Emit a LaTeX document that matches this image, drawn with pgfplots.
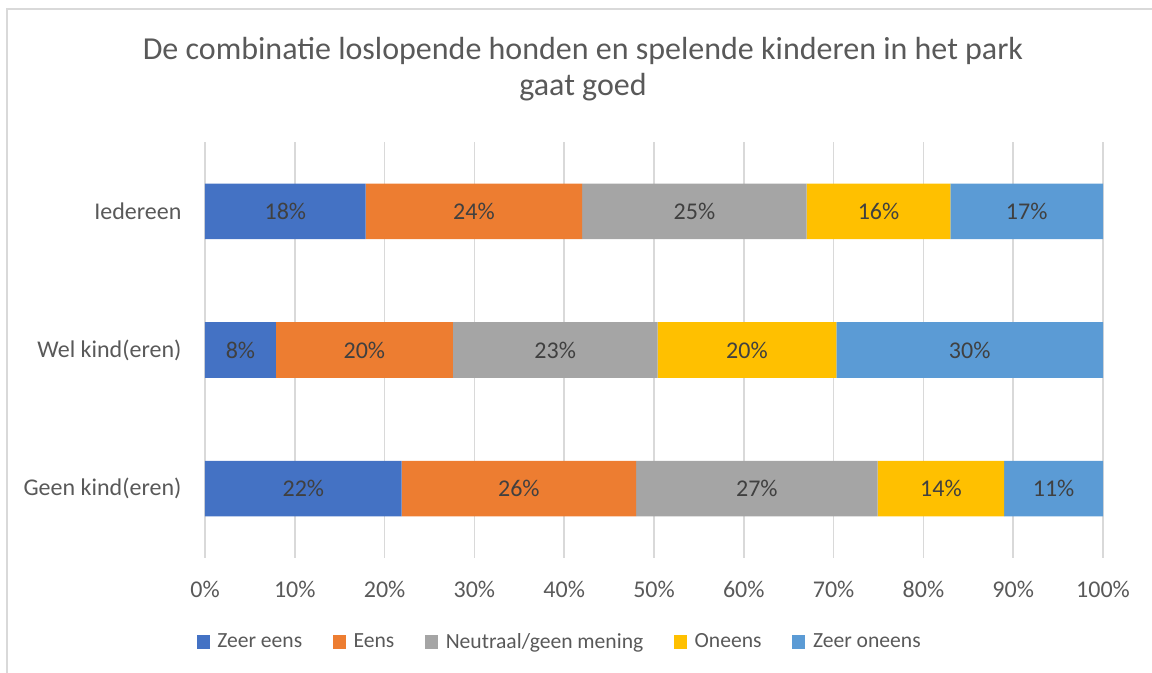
\documentclass[border=0pt]{standalone}
\usepackage{pgfplots}
\usepackage{pgfplotstable}
\pgfplotsset{compat=1.18}
\usepackage{fontspec}
\setmainfont{Carlito}

\definecolor{zeereens}{HTML}{4472C4}
\definecolor{eens}{HTML}{ED7D31}
\definecolor{neutraal}{HTML}{A5A5A5}
\definecolor{oneens}{HTML}{FFC000}
\definecolor{zeeroneens}{HTML}{5B9BD5}
\definecolor{txt}{HTML}{595959}
\definecolor{lbl}{HTML}{404040}
\definecolor{gridc}{HTML}{D9D9D9}

% y: 0 = Geen kind(eren), 1 = Wel kind(eren), 2 = Iedereen
\pgfplotstableread{
y  ze    e     n     o     zo
0  21.9  26.1  26.9  14.1  11.0
1  7.9   19.7  22.8  19.9  29.7
2  17.9  24.1  25.0  16.0  17.0
}\antwoorden

\begin{document}
\begin{tikzpicture}
\useasboundingbox (0,0) rectangle (864pt,504.75pt);
% chart border
\draw[gridc, line width=1.1pt] (5.25pt,0) -- (5.25pt,498pt) -- (864pt,498pt);

% title
\node[anchor=base, text=txt, font=\fontsize{24}{29}\selectfont] at (437.25pt,460.1pt)
  {De combinatie loslopende honden en spelende kinderen in het park};
\node[anchor=base, text=txt, font=\fontsize{24}{29}\selectfont] at (437.25pt,432.75pt)
  {gaat goed};

\begin{axis}[
  at={(153.75pt,86.25pt)}, anchor=south west,
  scale only axis,
  width=673.5pt, height=312pt,
  xbar stacked,
  bar width=41.7pt,
  xmin=0, xmax=100,
  ymin=-0.5, ymax=2.5,
  xtick={0,10,...,100},
  xticklabel={\pgfmathprintnumber{\tick}\%},
  ytick={0,1,2},
  yticklabels={Geen kind(eren), Wel kind(eren), Iedereen},
  /pgf/number format/assume math mode=true,
  axis line style={draw=none},
  major tick length=0pt,
  xmajorgrids=true,
  grid style={gridc, line width=1.1pt},
  tick label style={font=\fontsize{18}{22}\selectfont, text=txt},
  xticklabel style={anchor=center, yshift=-23.6pt},
  yticklabel style={anchor=east, inner sep=0pt, xshift=-17.5pt},
  visualization depends on={rawx \as \segw},
  nodes near coords={\pgfmathprintnumber[fixed,precision=0]{\segw}\%},
  every node near coord/.append style={anchor=center,
    font=\fontsize{18}{22}\selectfont, text=lbl},
  legend columns=5,
  legend style={
    at={(0.3953,-0.2019)}, anchor=center,
    draw=none, fill=none,
    font=\fontsize{16.2}{20}\selectfont, text=txt,
    /tikz/every even column/.append style={column sep=21pt},
    /tikz/every odd column/.append style={column sep=3.75pt},
    inner sep=0pt,
  },
  legend cell align=left,
  legend image code/.code={\fill[#1,draw=none] (0pt,-4.9pt) rectangle (9.8pt,4.9pt);},
]
\addplot[fill=zeereens, draw=none] table[x=ze, y=y] {\antwoorden};
\addplot[fill=eens, draw=none] table[x=e, y=y] {\antwoorden};
\addplot[fill=neutraal, draw=none] table[x=n, y=y] {\antwoorden};
\addplot[fill=oneens, draw=none] table[x=o, y=y] {\antwoorden};
\addplot[fill=zeeroneens, draw=none] table[x=zo, y=y] {\antwoorden};
\legend{Zeer eens, Eens, Neutraal/geen mening, Oneens, Zeer oneens}
\end{axis}
\end{tikzpicture}
\end{document}
